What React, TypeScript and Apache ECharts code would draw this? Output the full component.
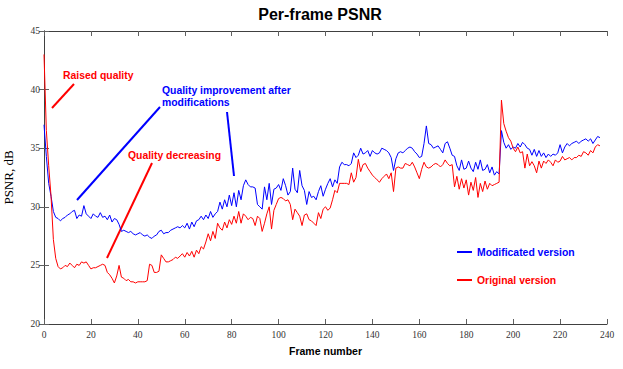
import React, { useEffect, useRef } from "react";
import * as echarts from "echarts";

// Frame numbers start at 0; one value per frame.
const modifiedPSNR: number[] = [
  37.0, 34.3, 32.0, 30.9, 29.6, 29.1, 29.0, 28.8, 29.0, 29.1,
  29.3, 29.4, 29.6, 29.7, 29.0, 29.3, 29.2, 30.1, 29.4, 29.2,
  29.0, 29.4, 29.2, 29.1, 29.5, 29.1, 29.2, 28.9, 29.3, 28.7,
  29.0, 28.9, 28.5, 27.9, 28.0, 27.9, 27.8, 27.9, 27.7, 27.6,
  27.7, 27.8, 27.6, 27.5, 27.6, 27.4, 27.3, 27.5, 27.6, 27.9,
  28.0, 27.7, 27.8, 27.8, 28.0, 28.1, 28.2, 28.3, 28.2, 28.4,
  28.2, 28.6, 28.1, 28.7, 28.3, 28.8, 28.9, 29.2, 28.9, 29.3,
  29.0, 29.6, 29.1, 29.4, 29.6, 30.4, 29.8, 30.6, 30.0, 31.0,
  30.1, 31.2, 30.0, 31.4, 30.6, 31.8, 32.3, 31.9, 31.7, 31.7,
  31.6, 30.2, 30.0, 29.8, 31.7, 30.6, 32.0, 30.2, 31.5, 31.6,
  31.9, 31.4, 32.4, 31.8, 31.0, 31.3, 33.3, 31.5, 31.2, 33.1,
  31.8, 31.4, 30.2, 31.3, 30.8, 30.9, 30.6, 31.3, 31.8, 30.9,
  31.5, 32.0, 32.4, 31.7, 32.3, 32.0, 33.4, 33.8, 33.6, 33.6,
  33.5, 33.7, 34.6, 34.2, 34.4, 35.0, 34.5, 34.6, 34.8, 34.3,
  34.8, 34.6, 34.5, 34.6, 35.0, 34.9, 34.8, 34.6, 34.2, 33.1,
  34.1, 34.6, 34.7, 34.6, 34.8, 35.0, 35.1, 35.0, 34.7, 34.5,
  34.2, 34.3, 35.4, 36.9, 35.4, 35.3, 35.0, 35.1, 35.2, 34.9,
  34.6, 35.4, 35.55, 35.0, 34.4, 34.3, 33.5, 33.1, 34.0, 33.2,
  33.3, 33.9, 33.3, 33.0, 33.8, 33.2, 34.0, 33.1, 33.2, 33.6,
  32.9, 33.4, 32.7, 33.0, 32.8, 36.5, 35.5, 35.0, 35.3, 34.9,
  35.1, 35.0, 35.4, 35.1, 35.5, 35.3, 35.0, 34.9, 34.4, 34.9,
  34.3, 34.8, 34.3, 34.6, 34.2, 34.5, 34.3, 34.5, 34.4, 34.6,
  35.3, 34.6, 35.1, 35.4, 35.2, 35.4, 35.5, 35.6, 35.4, 35.6,
  35.7, 35.8, 35.6, 35.8, 35.4, 35.7, 36.0, 35.9,
];

const originalPSNR: number[] = [
  43.0, 36.5, 33.5, 30.9, 27.2, 25.6, 24.9, 24.7, 24.8, 25.0,
  24.9, 25.2, 25.0, 24.8, 25.1, 25.0, 25.3, 25.2, 25.3, 25.0,
  24.7, 24.8, 24.8, 24.9, 25.0, 25.1, 25.0, 24.4, 24.2, 23.9,
  23.5, 24.1, 25.0, 24.0, 23.9, 23.7, 23.8, 23.6, 23.6, 23.5,
  23.6, 23.6, 23.6, 23.6, 23.7, 25.1, 25.0, 24.4, 24.4, 24.5,
  25.9, 25.6, 25.3, 25.3, 25.4, 25.5, 25.7, 25.6, 25.8, 26.0,
  25.7, 26.1, 25.8, 26.2, 25.7, 26.3, 26.0, 26.6, 26.4, 27.0,
  27.7, 27.1, 27.9, 27.3, 28.6, 28.2, 28.0, 28.7, 28.2, 28.9,
  28.5, 29.2, 28.6, 29.6, 28.6, 29.4, 29.2, 28.9, 29.1, 29.0,
  28.4, 29.2, 29.0, 27.9, 28.6, 29.4, 30.0, 28.1, 29.7, 30.2,
  30.7, 30.8, 30.7, 30.5, 30.6, 30.2, 28.9, 29.8, 29.5, 29.2,
  28.4, 29.3, 29.4, 28.9, 28.8, 28.6, 28.4, 29.5, 29.0, 29.8,
  30.0, 29.7, 29.9, 30.6, 31.4, 31.2, 32.0, 32.0, 32.0, 32.0,
  31.9, 32.9, 32.1, 32.5, 34.05, 33.0, 33.6, 33.7, 33.3, 33.0,
  32.7, 32.5, 32.3, 32.1, 32.4, 32.6, 32.8, 32.4, 32.9, 31.3,
  33.3, 33.4, 33.3, 33.3, 33.7, 33.6, 33.5, 33.8, 33.4, 32.9,
  32.4, 33.2, 33.8, 33.4, 33.3, 33.4, 33.6, 33.7, 33.6, 33.4,
  33.6, 34.0, 33.7, 33.5, 33.6, 31.7, 32.6, 31.5, 32.4, 31.6,
  32.3, 31.0, 32.1, 31.4, 32.5, 30.8, 32.0, 31.3, 32.2, 31.5,
  32.0, 31.8, 31.9, 32.0, 32.1, 39.1, 37.1, 36.45, 35.9, 35.6,
  35.0, 34.7, 35.1, 34.6, 34.7, 33.3, 34.5, 33.5, 33.85, 33.5,
  32.9, 33.9, 33.3, 33.9, 33.7, 34.0, 33.8, 33.5, 34.0, 33.8,
  33.9, 34.3, 34.0, 34.1, 34.2, 34.0, 34.2, 34.2, 34.4, 34.3,
  34.7, 34.6, 34.4, 34.8, 34.6, 35.1, 35.3, 35.2,
];

const seriesNames = ["Modificated version", "Original version"];
const seriesColors = ["#0000ff", "#ff0000"];

const xTicks = { min: 0, max: 240, interval: 20 };
const yTicks = { min: 20, max: 45, interval: 5 };

const SANS = '"Liberation Sans", Arial, sans-serif';
const SERIF = '"Liberation Serif", "Times New Roman", serif';
const ANNOT = `bold 10.4px ${SANS}`;

export default function App() {
  const ref = useRef<HTMLDivElement>(null);

  useEffect(() => {
    if (!ref.current) return;
    const chart = echarts.init(ref.current, undefined, { renderer: "svg" });

    const toPairs = (arr: number[]) => arr.map((v, i) => [i, v]);

    const axisLine = { show: true, lineStyle: { color: "#404040", width: 1 } };
    const tickStyle = { inside: true, length: 5, lineStyle: { color: "#606060" } };

    chart.setOption({
      animation: false,
      backgroundColor: "#ffffff",
      grid: {
        left: 44,
        right: 16,
        top: 31,
        bottom: 45,
        containLabel: false,
        outerBoundsMode: "none",
      },
      xAxis: [
        {
          type: "value",
          ...xTicks,
          name: "Frame number",
          nameLocation: "middle",
          nameGap: 21,
          nameTextStyle: { fontFamily: SANS, fontWeight: "bold", fontSize: 10.5, color: "#000" },
          axisLine,
          axisTick: tickStyle,
          splitLine: { show: false },
          axisLabel: { fontFamily: SERIF, fontSize: 9.5, color: "#333", margin: 6 },
        },
        {
          type: "value",
          ...xTicks,
          position: "top",
          axisLine,
          axisTick: tickStyle,
          splitLine: { show: false },
          axisLabel: { show: false },
        },
      ],
      yAxis: [
        {
          type: "value",
          ...yTicks,
          name: "PSNR, dB",
          nameLocation: "middle",
          nameGap: 29,
          nameTextStyle: { fontFamily: SERIF, fontSize: 13, color: "#000" },
          axisLine,
          axisTick: tickStyle,
          splitLine: { show: false },
          axisLabel: { fontFamily: SERIF, fontSize: 9.5, color: "#333", margin: 4 },
        },
        {
          type: "value",
          ...yTicks,
          position: "right",
          axisLine,
          axisTick: tickStyle,
          splitLine: { show: false },
          axisLabel: { show: false },
        },
      ],
      legend: {
        orient: "vertical",
        left: 452,
        top: 242,
        itemWidth: 15,
        itemHeight: 2,
        itemGap: 18,
        icon: "rect",
        data: [
          { name: seriesNames[0], textStyle: { color: seriesColors[0] } },
          { name: seriesNames[1], textStyle: { color: seriesColors[1] } },
        ],
        textStyle: { fontFamily: SANS, fontWeight: "bold", fontSize: 10.4 },
      },
      series: [
        {
          name: seriesNames[0],
          type: "line",
          xAxisIndex: 0,
          yAxisIndex: 0,
          data: toPairs(modifiedPSNR),
          showSymbol: false,
          lineStyle: { color: seriesColors[0], width: 1 },
          itemStyle: { color: seriesColors[0] },
        },
        {
          name: seriesNames[1],
          type: "line",
          xAxisIndex: 0,
          yAxisIndex: 0,
          data: toPairs(originalPSNR),
          showSymbol: false,
          lineStyle: { color: seriesColors[1], width: 1 },
          itemStyle: { color: seriesColors[1] },
        },
      ],
      graphic: [
        {
          type: "text",
          x: 320,
          y: 14,
          style: {
            text: "Per-frame PSNR",
            fill: "#000",
            font: `bold 16px ${SANS}`,
            textAlign: "center",
            textVerticalAlign: "middle",
          },
        },
        {
          type: "text",
          x: 63,
          y: 75,
          style: { text: "Raised quality", fill: "#ff0000", font: ANNOT, textVerticalAlign: "middle" },
        },
        {
          type: "line",
          shape: { x1: 52, y1: 108, x2: 74, y2: 84 },
          style: { stroke: "#ff0000", lineWidth: 2 },
        },
        {
          type: "text",
          x: 162,
          y: 90,
          style: { text: "Quality improvement after", fill: "#0000ff", font: ANNOT, textVerticalAlign: "middle" },
        },
        {
          type: "text",
          x: 162,
          y: 102,
          style: { text: "modifications", fill: "#0000ff", font: ANNOT, textVerticalAlign: "middle" },
        },
        {
          type: "line",
          shape: { x1: 77, y1: 200, x2: 160, y2: 107 },
          style: { stroke: "#0000ff", lineWidth: 2 },
        },
        {
          type: "line",
          shape: { x1: 227, y1: 112, x2: 234, y2: 176 },
          style: { stroke: "#0000ff", lineWidth: 2 },
        },
        {
          type: "text",
          x: 128,
          y: 155,
          style: { text: "Quality decreasing", fill: "#ff0000", font: ANNOT, textVerticalAlign: "middle" },
        },
        {
          type: "line",
          shape: { x1: 107, y1: 258, x2: 152, y2: 163 },
          style: { stroke: "#ff0000", lineWidth: 2 },
        },
      ],
    });

    return () => chart.dispose();
  }, []);

  return (
    <div
      ref={ref}
      style={{ position: "fixed", left: 0, top: 0, width: 623, height: 369, background: "#fff" }}
    />
  );
}
